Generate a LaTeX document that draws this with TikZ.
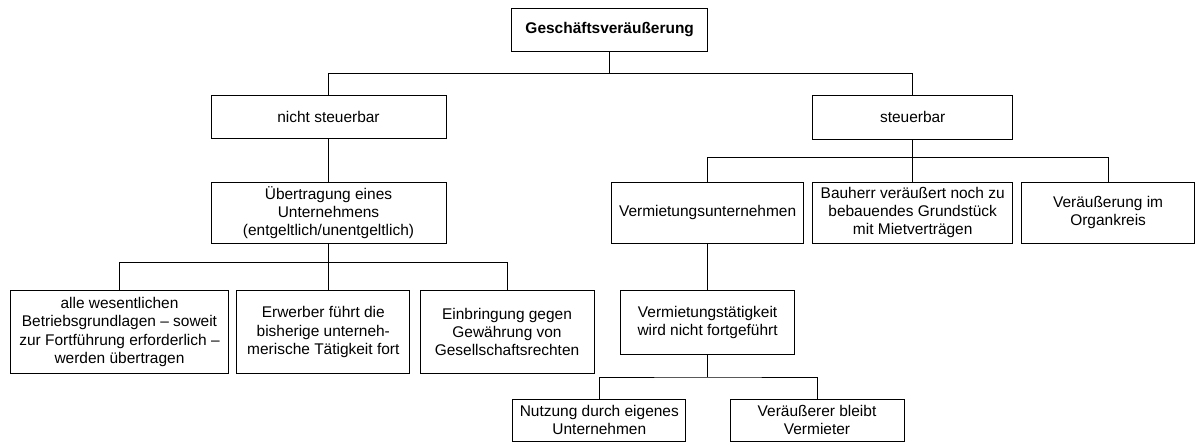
\documentclass[tikz,border=0pt]{standalone}
\usepackage{fontspec}
\setmainfont{Liberation Sans}
\begin{document}
\begin{tikzpicture}[x=0.75pt,y=-0.75pt,
  box/.style={draw=black, line width=0.75pt, align=center, inner sep=0pt,
    font=\fontsize{11.6}{13.6}\selectfont},
  link/.style={draw=black, line width=0.75pt}]
\useasboundingbox (0,0) rectangle (1195,443);

% level 0
\node[box, minimum width=147pt, minimum height=32.55pt,
  font=\fontsize{11.6}{13.6}\selectfont\bfseries] (root) at (609.7,30) {Geschäftsveräußerung};

% level 1
\node[box, minimum width=176.25pt, minimum height=32.6pt] (ns) at (328.5,116.8) {nicht steuerbar};
\node[box, minimum width=150pt, minimum height=33pt] (st) at (912.7,117) {steuerbar};

% level 2
\node[box, minimum width=176.25pt, minimum height=45.75pt] (ueb) at (328.5,212.8)
  {Übertragung eines\\Unternehmens\\(entgeltlich/unentgeltlich)};
\node[box, minimum width=143.7pt, minimum height=45.75pt] (vu) at (707.6,212.8)
  {Vermietungsunternehmen};
\node[box, minimum width=150pt, minimum height=45.75pt] (bau) at (912.7,212.8)
  {Bauherr veräußert noch zu\\bebauendes Grundstück\\mit Mietverträgen};
\node[box, minimum width=129.6pt, minimum height=45.75pt] (org) at (1108.1,212.8)
  {Veräußerung im\\Organkreis};

% level 3
\node[box, minimum width=163.2pt, minimum height=61.95pt] (b1) at (119.5,332)
  {alle wesentlichen\\Betriebsgrundlagen – soweit\\zur Fortführung erforderlich –\\werden übertragen};
\node[box, minimum width=130pt, minimum height=61.95pt] (b2) at (323.3,332)
  {Erwerber führt die\\bisherige unterneh-\\merische Tätigkeit fort};
\node[box, minimum width=130.5pt, minimum height=61.95pt] (b3) at (507,332)
  {Einbringung gegen\\Gewährung von\\Gesellschaftsrechten};
\node[box, minimum width=130.7pt, minimum height=48.2pt] (vt) at (707.6,322.8)
  {Vermietungstätigkeit\\wird nicht fortgeführt};

% level 4
\node[box, minimum width=130pt, minimum height=31.5pt] (nu) at (599.3,420)
  {Nutzung durch eigenes\\Unternehmen};
\node[box, minimum width=130.5pt, minimum height=31.5pt] (vv) at (817,420)
  {Veräußerer bleibt\\Vermieter};

% connectors
\coordinate (busA) at (609.7,73.3);
\draw[link] (root.south) -- (busA);
\draw[link] (ns.north) |- (busA) -| (st.north);

\draw[link] (ns.south) -- (ueb.north);
\coordinate (busB) at (328.5,262.7);
\draw[link] (ueb.south) -- (ueb.south |- b2.north);
\draw[link] (b1.north) |- (busB) -| (b3.north);

\coordinate (busC) at (912.7,157.3);
\draw[link] (st.south) -- (bau.north);
\draw[link] (vu.north) |- (busC) -| (org.north);

\draw[link] (vu.south) -- (vt.north);
\coordinate (busD) at (707.6,377);
\draw[link] (vt.south) -- (busD);
\draw[link] (nu.north) |- (busD) -| (vv.north);
\end{tikzpicture}
\end{document}
